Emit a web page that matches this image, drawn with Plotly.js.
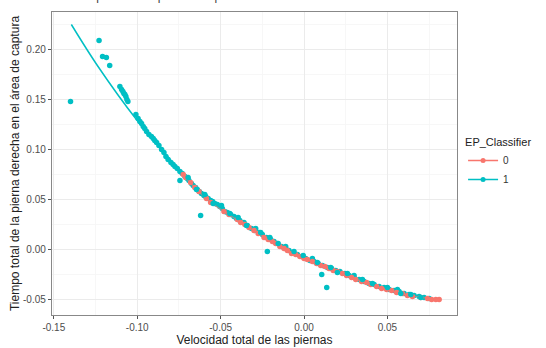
<!DOCTYPE html>
<html>
<head>
<meta charset="utf-8">
<script src="https://cdn.plot.ly/plotly-3.0.1.min.js"></script>
<style>html,body{margin:0;padding:0;background:#fff;}#chart{width:546px;height:348px;}</style>
</head>
<body>
<div id="chart"></div>
<script>
// Group 1 (teal) points
const x1 = [-0.1400,-0.1229,-0.1208,-0.1185,-0.1165,-0.1104,-0.1094,-0.1086,-0.1080,-0.1074,-0.1068,-0.1062,-0.1056,
  -0.1008,-0.0995,-0.0984,-0.0974,-0.0964,-0.0955,-0.0944,-0.0930,-0.0915,-0.0904,-0.0895,-0.0884,-0.0870,-0.0854,-0.0840,
  -0.0828,-0.0815,-0.0798,-0.0785,-0.0774,-0.0760,-0.0744,-0.0730,-0.0714,-0.0700,-0.0690,-0.0675,-0.0665,-0.0650,-0.0640,
  -0.0628,-0.0615,-0.0600,-0.0590,-0.0575,-0.0560,-0.0548,-0.0535,-0.0520,-0.0505,-0.0490,-0.0475,-0.0460,-0.0440,-0.0420,
  -0.0405,-0.0385,-0.0360,-0.0340,-0.0315,-0.0295,-0.0270,-0.0250,-0.0225,-0.0200,-0.0180,-0.0160,-0.0135,-0.0110,-0.0090,
  -0.0065,-0.0040,-0.0015,0.0010,0.0035,0.0060,0.0085,0.0110,0.0140,0.0165,0.0190,0.0215,0.0245,0.0270,0.0300,0.0330,
  0.0360,0.0390,0.0420,0.0450,0.0480,0.0510,0.0540,0.0570,0.0600,0.0630,0.0660,0.0690,0.0720,0.0750,
  -0.0744,-0.0620,-0.0220,0.0106,0.0136,-0.0290,-0.0110,0.0050,0.0300,0.0560];
const y1 = [0.148,0.209,0.193,0.192,0.184,0.163,0.160,0.158,0.156,0.155,0.153,0.150,0.148,
  0.135,0.131,0.128,0.126,0.123,0.121,0.118,0.115,0.113,0.111,0.109,0.107,0.104,0.100,0.097,
  0.093,0.090,0.087,0.085,0.083,0.081,0.078,0.076,0.073,0.071,0.069,0.066,0.064,0.062,0.060,
  0.058,0.056,0.054,0.053,0.051,0.049,0.048,0.046,0.045,0.043,0.041,0.038,0.037,0.035,0.033,
  0.031,0.029,0.027,0.024,0.021,0.019,0.017,0.015,0.012,0.010,0.008,0.006,0.003,0.001,-0.001,
  -0.003,-0.005,-0.007,-0.009,-0.011,-0.012,-0.014,-0.016,-0.018,-0.019,-0.021,-0.022,-0.024,-0.026,-0.028,-0.030,
  -0.032,-0.034,-0.035,-0.037,-0.038,-0.040,-0.041,-0.042,-0.044,-0.045,-0.046,-0.047,-0.048,-0.049,
  0.069,0.034,-0.002,-0.025,-0.038,0.021,0.003,-0.009,-0.026,-0.040];
// Group 0 (red) points
const x0 = [-0.0724,-0.0710,-0.0680,-0.0655,-0.0630,-0.0585,-0.0560,-0.0480,-0.0450,-0.0400,-0.0380,-0.0355,-0.0330,
  -0.0300,-0.0275,-0.0240,-0.0215,-0.0190,-0.0170,-0.0145,-0.0120,-0.0100,-0.0075,-0.0050,-0.0025,0.0000,0.0020,
  0.0050,0.0075,0.0100,0.0125,0.0150,0.0175,0.0200,0.0230,0.0255,0.0285,0.0310,0.0345,0.0375,0.0400,0.0435,
  0.0465,0.0495,0.0525,0.0555,0.0590,0.0620,0.0650,0.0700,0.0740,0.0765,0.0790,0.0810];
const y0 = [0.075,0.072,0.067,0.062,0.058,0.051,0.047,0.038,0.035,0.030,0.027,0.025,0.022,
  0.019,0.016,0.012,0.010,0.008,0.006,0.003,0.001,-0.001,-0.004,-0.005,-0.007,-0.009,-0.010,
  -0.012,-0.014,-0.016,-0.017,-0.019,-0.021,-0.022,-0.024,-0.026,-0.028,-0.030,-0.032,-0.033,-0.035,-0.037,
  -0.039,-0.040,-0.041,-0.043,-0.044,-0.046,-0.047,-0.048,-0.049,-0.050,-0.050,-0.050];
// More group 1 points that sit over the group 0 points in the band
const x1b = [-0.0695,-0.0645,-0.0595,-0.0545,-0.0495,-0.0445,-0.0395,-0.0345,-0.0260,-0.0205,-0.0155,-0.0060,
  -0.0005,0.0080,0.0160,0.0200,0.0260,0.0350,0.0410,0.0500,0.0580,0.0640,0.0700];
const y1b = [0.072,0.060,0.055,0.046,0.044,0.036,0.032,0.024,0.017,0.012,0.006,-0.002,
  -0.006,-0.013,-0.018,-0.023,-0.024,-0.030,-0.034,-0.038,-0.044,-0.045,-0.048];
// Smooth fit lines
const sx1 = [-0.1395,-0.1235,-0.1005,-0.0854,-0.0724,-0.0574,-0.0424,-0.0274,-0.0124,0.0026,0.0176,0.0376,0.0576,0.0750];
const sy1 = [0.225,0.183,0.130,0.100,0.075,0.050,0.033,0.017,0.002,-0.010,-0.020,-0.033,-0.043,-0.049];
const sx0 = [-0.0724,-0.0574,-0.0424,-0.0274,-0.0124,0.0026,0.0176,0.0376,0.0576,0.0810];
const sy0 = [0.074,0.049,0.032,0.016,0.001,-0.011,-0.021,-0.034,-0.044,-0.050];

const RED = '#F8766D', TEAL = '#00BFC4';
const traces = [
  {x: sx1, y: sy1, mode: 'lines', line: {color: TEAL, width: 1.5, shape: 'spline'}, showlegend: false, hoverinfo: 'skip'},
  {x: x1, y: y1, mode: 'markers', marker: {color: TEAL, size: 5.5}, showlegend: false},
  {x: x0, y: y0, mode: 'markers', marker: {color: RED, size: 5.5}, showlegend: false},
  {x: sx0, y: sy0, mode: 'lines', line: {color: RED, width: 1.2, shape: 'spline'}, showlegend: false, hoverinfo: 'skip', opacity: 0.6},
  {x: x1b, y: y1b, mode: 'markers', marker: {color: TEAL, size: 5.5}, showlegend: false},
  {x: [null], y: [null], mode: 'lines+markers', line: {color: RED, width: 1.5}, marker: {color: RED, size: 5}, name: '0'},
  {x: [null], y: [null], mode: 'lines+markers', line: {color: TEAL, width: 1.5}, marker: {color: TEAL, size: 5}, name: '1'}
];
const fam = 'Liberation Sans, Arial, sans-serif';
const layout = {
  width: 546, height: 348,
  margin: {l: 52, r: 89, t: 12, b: 33},
  paper_bgcolor: '#fff', plot_bgcolor: '#fff',
  font: {family: fam, size: 10, color: '#4d4d4d'},
  showlegend: true,
  legend: {x: 1.015, y: 0.605, xanchor: 'left', yanchor: 'top', traceorder: 'normal',
    title: {text: 'EP_Classifier', font: {size: 11, color: '#222'}},
    font: {size: 10, color: '#333'}, itemwidth: 30, tracegroupgap: 0},
  xaxis: {
    range: [-0.1511, 0.0917], tickvals: [-0.15, -0.10, -0.05, 0.00, 0.05],
    ticktext: ['-0.15', '-0.10', '-0.05', '0.00', '0.05'],
    showgrid: true, gridcolor: '#ebebeb', gridwidth: 1,
    minor: {tickvals: [-0.125, -0.075, -0.025, 0.025, 0.075], showgrid: true, gridcolor: '#f5f5f5', gridwidth: 0.8, ticks: ''},
    zeroline: false, showline: true, mirror: true, linecolor: '#888', linewidth: 1.2,
    ticks: 'outside', ticklen: 3, tickcolor: '#555', tickfont: {size: 10, color: '#4d4d4d'},
    title: {text: 'Velocidad total de las piernas', font: {size: 12, color: '#222'}, standoff: 2}
  },
  yaxis: {
    range: [-0.0655, 0.2375], tickvals: [-0.05, 0.00, 0.05, 0.10, 0.15, 0.20],
    ticktext: ['-0.05', '0.00', '0.05', '0.10', '0.15', '0.20'],
    showgrid: true, gridcolor: '#ebebeb', gridwidth: 1,
    minor: {tickvals: [-0.025, 0.025, 0.075, 0.125, 0.175, 0.225], showgrid: true, gridcolor: '#f5f5f5', gridwidth: 0.8, ticks: ''},
    zeroline: false, showline: true, mirror: true, linecolor: '#888', linewidth: 1.2,
    ticks: 'outside', ticklen: 3, tickcolor: '#555', tickfont: {size: 10, color: '#4d4d4d'},
    title: {text: 'Tiempo total de la pierna derecha en el área de captura', font: {size: 12, color: '#222'}, standoff: 0}
  },
  annotations: [{
    text: 'con respecto a las personas que tienen o no EP', xref: 'paper', yref: 'paper',
    x: 0.007, y: 1.0215, xanchor: 'left', yanchor: 'bottom', showarrow: false,
    font: {size: 12, color: '#444'}
  }]
};
Plotly.newPlot('chart', traces, layout, {displayModeBar: false, staticPlot: true});
</script>
</body>
</html>
